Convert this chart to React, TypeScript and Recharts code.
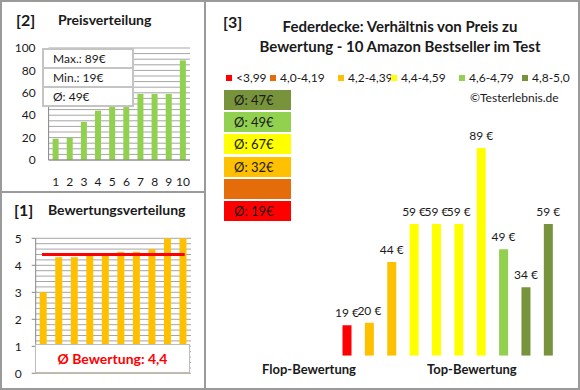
import React from "react";
import {
  BarChart,
  ComposedChart,
  Bar,
  Line,
  XAxis,
  YAxis,
  CartesianGrid,
  Cell,
  LabelList,
} from "recharts";

// [2] price distribution (sorted)
const rankLabels = ["1", "2", "3", "4", "5", "6", "7", "8", "9", "10"];
const sortedPrices = [19, 20, 34, 44, 49, 59, 59, 59, 59, 89];
const priceTicks = [0, 5, 10, 15, 20, 25, 30, 35, 40, 45, 50, 55, 60, 65, 70, 75, 80, 85, 90, 95, 100];
const priceMajor = [0, 20, 40, 60, 80, 100];
const priceMax = 89;
const priceMin = 19;
const priceAvg = 49;

// [1] rating distribution (sorted)
const sortedRatings = [3.0, 4.3, 4.3, 4.4, 4.4, 4.5, 4.5, 4.6, 5.0, 5.0];
const ratingAvg = 4.4;
const ratingTicks = Array.from({ length: 26 }, (_, i) => Math.round(i * 2) / 10);

// [3] price vs rating per product
const productPrices = [19, 20, 44, 59, 59, 59, 89, 49, 34, 59];
const productRatings = [3.0, 4.3, 4.3, 4.4, 4.4, 4.5, 4.5, 4.6, 5.0, 5.0];
const groupLabels = ["<3,99", "4,0-4,19", "4,2-4,39", "4,4-4,59", "4,6-4,79", "4,8-5,0"];
const groupLimits = [4.0, 4.2, 4.4, 4.6, 4.8, 99];
const groupColors = ["#FF0000", "#E46C0A", "#FFC000", "#FFFF00", "#92D050", "#77933C"];
const groupAvg: (number | null)[] = [19, null, 32, 67, 49, 47];

// legend item x positions inside the page
const legendX = [226, 270, 338, 391, 459, 522];

const FONT = "Lato, 'Noto Sans', sans-serif";
const GRID = "#a6a6a6";
const AXIS = "#868686";
const INK = "#1a1a1a";

const priceData = rankLabels.map((r, i) => ({ rank: r, price: sortedPrices[i] }));
const ratingData = sortedRatings.map((v, i) => ({ idx: i + 1, rating: v, avg: ratingAvg }));
const productData = productPrices.map((p, i) => ({ idx: i + 1, price: p, rating: productRatings[i] }));

const groupOf = (r: number) => groupLimits.findIndex((lim) => r < lim - 1e-9);

function makeTick(majors: (v: number) => boolean, tickLen: number, gap: number, fmt: (v: number) => string) {
  return (props: any) => {
    const { x, y, payload } = props;
    const v = payload.value;
    if (!majors(v)) return <g />;
    return (
      <g>
        {tickLen > 0 && <line x1={x - tickLen} x2={x} y1={y} y2={y} stroke={AXIS} />}
        <text x={x - gap} y={y} dy="0.35em" textAnchor="end" fontSize={12} fill={INK}>
          {fmt(v)}
        </text>
      </g>
    );
  };
}

// price label above each bar, kept on one line
const PriceLabel = (props: any) => {
  const { x, y, width, value } = props;
  return (
    <text x={x + width / 2} y={y - 8} textAnchor="middle" fontSize={12} fill={INK}>
      {`${value} €`}
    </text>
  );
};

const abs = (left: number, top: number, extra: React.CSSProperties = {}): React.CSSProperties => ({
  position: "absolute",
  left,
  top,
  ...extra,
});

export default function App() {
  return (
    <div
      style={{
        position: "fixed",
        left: 0,
        top: 0,
        width: 580,
        height: 390,
        background: "#fff",
        fontFamily: FONT,
        color: INK,
        overflow: "hidden",
      }}
    >
      {/* frame */}
      <div style={abs(0, 0, { width: 576, height: 386, border: "2px solid #9a9a9a" })} />
      <div style={abs(204, 0, { width: 2, height: 388, background: "#9a9a9a" })} />
      <div style={abs(0, 191, { width: 205, height: 2, background: "#9a9a9a" })} />

      {/* [2] Preisverteilung */}
      <div style={abs(16, 10, { fontSize: 16, fontWeight: 700 })}>[2]</div>
      <div style={abs(58, 11, { fontSize: 14, fontWeight: 700 })}>Preisverteilung</div>
      <div style={abs(0, 0)}>
        <BarChart width={200} height={192} data={priceData} margin={{ top: 48, right: 10, bottom: 0, left: 0 }}>
          <CartesianGrid horizontal vertical={false} stroke={GRID} />
          <XAxis
            dataKey="rank"
            height={32}
            tickLine={false}
            tickSize={0}
            tickMargin={17}
            stroke={AXIS}
            tick={{ fontSize: 12, fill: INK }}
            interval={0}
          />
          <YAxis
            width={48.6}
            domain={[0, 100]}
            ticks={priceTicks}
            interval={0}
            tickLine={false}
            tickSize={0}
            tickMargin={0}
            stroke={AXIS}
            tick={makeTick((v) => priceMajor.includes(v), 0, 13, (v) => String(v))}
          />
          <Bar dataKey="price" fill="#92D050" barSize={6} isAnimationActive={false} />
        </BarChart>
      </div>
      <div
        style={abs(42, 48, {
          width: 88,
          border: "2px solid #c4c4c4",
          background: "#fff",
          fontSize: 12,
        })}
      >
        {[`Max.: ${priceMax}€`, `Min.: ${priceMin}€`, `Ø: ${priceAvg}€`].map((t, i) => (
          <div
            key={t}
            style={{
              height: 17,
              lineHeight: "17px",
              paddingLeft: 9,
              borderTop: i ? "2px solid #c4c4c4" : "none",
            }}
          >
            {t}
          </div>
        ))}
      </div>

      {/* [1] Bewertungsverteilung */}
      <div style={abs(14, 200, { fontSize: 16, fontWeight: 700 })}>[1]</div>
      <div style={abs(48, 201, { fontSize: 14, fontWeight: 700 })}>Bewertungsverteilung</div>
      <div style={abs(0, 192)}>
        <ComposedChart width={200} height={196} data={ratingData} margin={{ top: 46.3, right: 9, bottom: 14.7, left: 0 }}>
          <CartesianGrid horizontal vertical={false} stroke={GRID} />
          <XAxis dataKey="idx" hide />
          <YAxis
            width={35.7}
            domain={[0, 5]}
            ticks={ratingTicks}
            interval={0}
            tickLine={false}
            tickSize={0}
            tickMargin={0}
            stroke={AXIS}
            tick={makeTick((v) => Math.abs(v - Math.round(v)) < 1e-6, 4, 14, (v) => String(Math.round(v)))}
          />
          <Bar dataKey="rating" fill="#FFC000" barSize={7} isAnimationActive={false} />
          <Line
            dataKey="avg"
            stroke="#FF0000"
            strokeWidth={3}
            strokeLinecap="square"
            dot={false}
            activeDot={false}
            isAnimationActive={false}
          />
        </ComposedChart>
      </div>
      <div
        style={abs(35, 344, {
          width: 153,
          height: 27,
          border: "1.5px solid #bdbdbd",
          background: "#fff",
          color: "#FF0000",
          fontWeight: 700,
          fontSize: 14,
          lineHeight: "27px",
          textAlign: "center",
        })}
      >
        Ø Bewertung: {String(ratingAvg).replace(".", ",")}
      </div>

      {/* [3] Preis zu Bewertung */}
      <div style={abs(223, 12, { fontSize: 16, fontWeight: 700 })}>[3]</div>
      <div
        style={abs(230, 16, {
          width: 340,
          textAlign: "center",
          fontSize: 15,
          fontWeight: 700,
          lineHeight: "20px",
        })}
      >
        Federdecke: Verhältnis von Preis zu
        <br />
        Bewertung - 10 Amazon Bestseller im Test
      </div>
      {groupLabels.map((g, i) => (
        <div key={g} style={abs(legendX[i], 70, { display: "flex", alignItems: "center", fontSize: 12, lineHeight: "16px" })}>
          <span style={{ width: 6, height: 6, background: groupColors[i], marginRight: 4, display: "inline-block" }} />
          {g}
        </div>
      ))}
      <div style={abs(470, 90, { fontSize: 12 })}>©Testerlebnis.de</div>
      {groupAvg
        .map((a, i) => ({ a, color: groupColors[i] }))
        .reverse()
        .map((g, k) => (
          <div
            key={k}
            style={abs(224, 90 + k * 22.2, {
              width: 67,
              height: 20,
              background: g.color,
              fontSize: 13,
              lineHeight: "20px",
              paddingLeft: 10,
              boxSizing: "border-box",
            })}
          >
            {g.a !== null ? `Ø: ${g.a}€` : ""}
          </div>
        ))}
      <div style={abs(205, 0)}>
        <BarChart width={375} height={388} data={productData} margin={{ top: 120, right: 20.8, bottom: 32.3, left: 130.5 }}>
          <XAxis dataKey="idx" hide />
          <YAxis hide domain={[7, 100]} allowDataOverflow />
          <Bar dataKey="price" barSize={9} isAnimationActive={false}>
            {productData.map((d) => (
              <Cell key={d.idx} fill={groupColors[groupOf(d.rating)]} />
            ))}
            <LabelList dataKey="price" content={PriceLabel} />
          </Bar>
        </BarChart>
      </div>
      <div style={abs(262, 361, { fontSize: 13, fontWeight: 700 })}>Flop-Bewertung</div>
      <div style={abs(427, 361, { fontSize: 13, fontWeight: 700 })}>Top-Bewertung</div>
    </div>
  );
}
